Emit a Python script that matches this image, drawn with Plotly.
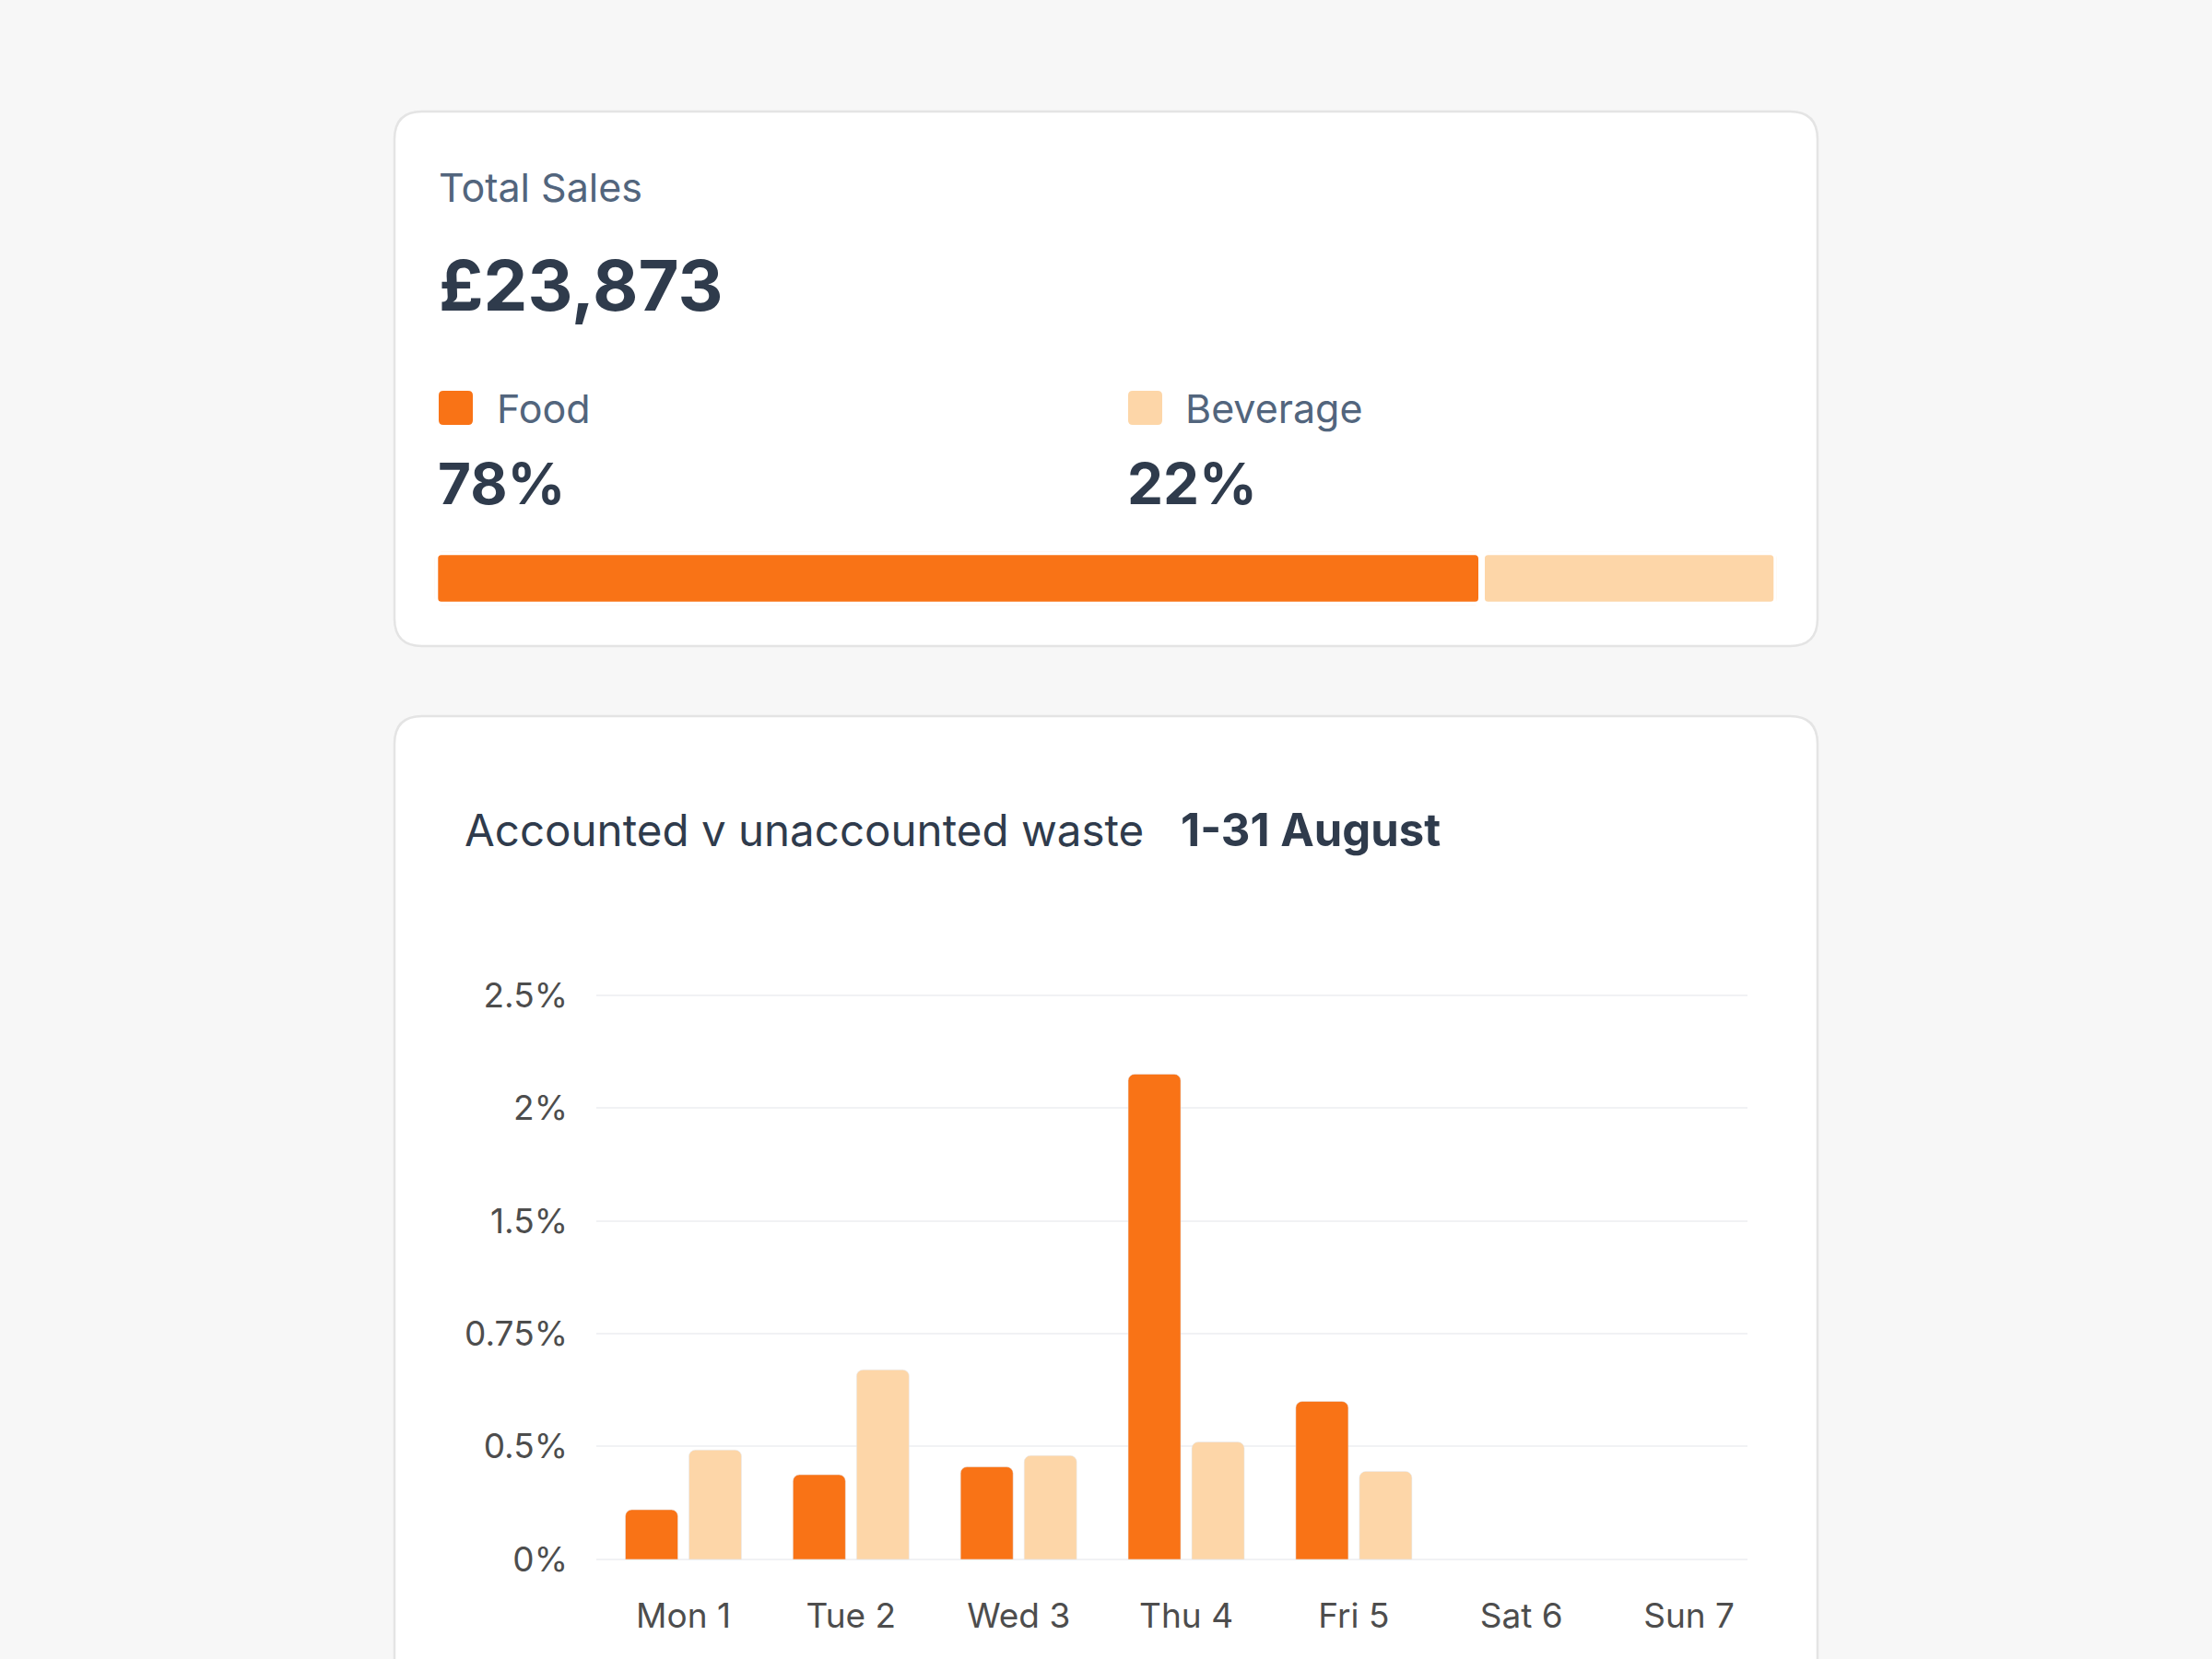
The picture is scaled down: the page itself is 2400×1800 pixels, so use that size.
import plotly.graph_objects as go

# ---------------- data ----------------
days = ["Mon 1", "Tue 2", "Wed 3", "Thu 4", "Fri 5", "Sat 6", "Sun 7"]
accounted = [0.22, 0.375, 0.41, 2.15, 0.70, None, None]      # Food (dark orange)
unaccounted = [0.485, 0.84, 0.46, 0.52, 0.39, None, None]    # Beverage (light orange)
ytick_vals = [0, 0.5, 1.0, 1.5, 2.0, 2.5]
ytick_text = ["0%", "0.5%", "0.75%", "1.5%", "2%", "2.5%"]

total_sales_label = "Total Sales"
total_sales_value = "£23,873"
share_names = ["Food", "Beverage"]
share_values = [78, 22]

chart_title = "Accounted v unaccounted waste"
chart_period = "1-31 August"

# ---------------- style ----------------
W, H = 2400, 1800
ORANGE = "#f97316"
PEACH = "#fdd6a8"
DARK = "#2f3b4c"
SLATE = "#52657d"
GREY = "#4d4d4d"
FONT = "Inter"


def px(x, y):
    return x / W, 1 - y / H


def rrect(x0, y0, x1, y1, r):
    pts = [
        ("M", (x0 + r, y0)), ("L", (x1 - r, y0)), ("Q", (x1, y0), (x1, y0 + r)),
        ("L", (x1, y1 - r)), ("Q", (x1, y1), (x1 - r, y1)),
        ("L", (x0 + r, y1)), ("Q", (x0, y1), (x0, y1 - r)),
        ("L", (x0, y0 + r)), ("Q", (x0, y0), (x0 + r, y0)),
    ]
    s = ""
    for p in pts:
        cmd = p[0]
        coords = " ".join("%.6f,%.6f" % px(*c) for c in p[1:])
        s += cmd + coords + " "
    return s + "Z"


fig = go.Figure()

# main chart bars
fig.add_trace(go.Bar(
    x=days, y=accounted, name="Accounted", marker=dict(color=ORANGE, cornerradius=7),
    xaxis="x", yaxis="y", hoverinfo="skip",
))
fig.add_trace(go.Bar(
    x=days, y=unaccounted, name="Unaccounted", marker=dict(color=PEACH, cornerradius=7),
    xaxis="x", yaxis="y", hoverinfo="skip",
))

# progress (share) bar
fig.add_trace(go.Bar(
    x=share_values, y=[0, 0], base=[0, share_values[0]], orientation="h",
    width=[1, 1],
    marker=dict(color=[ORANGE, PEACH], cornerradius=7, line=dict(color="white", width=7)),
    xaxis="x2", yaxis="y2", hoverinfo="skip",
))

# axis geometry (pixels)
cx0, step = 741.5, 181.85
plot_l, plot_r = 647, 1896
y0px, y25px = 1691.9, 1079.7
ppu = (y0px - y25px) / 2.5
ylo, yhi = -0.01, 2.51
dom_bot = 1 - (y0px + (0 - ylo) * ppu) / H
dom_top = 1 - (y25px - (yhi - 2.5) * ppu) / H

shapes = []
# cards
shapes.append(dict(type="path", path=rrect(428, 121, 1972, 701, 30), xref="paper", yref="paper",
                   fillcolor="white", line=dict(color="#e4e4e4", width=2.5), layer="below"))
shapes.append(dict(type="path", path=rrect(428, 777, 1972, 1900, 30), xref="paper", yref="paper",
                   fillcolor="white", line=dict(color="#e4e4e4", width=2.5), layer="below"))
# legend swatches
shapes.append(dict(type="path", path=rrect(476, 424, 513, 461, 5), xref="paper", yref="paper",
                   fillcolor=ORANGE, line=dict(width=0)))
shapes.append(dict(type="path", path=rrect(1224, 424, 1261, 461, 5), xref="paper", yref="paper",
                   fillcolor=PEACH, line=dict(width=0)))

annotations = []


def text(x, y, s, size, color, bold=False):
    ax, ay = px(x, y)
    annotations.append(dict(
        x=ax, y=ay, xref="paper", yref="paper", text=("<b>%s</b>" % s) if bold else s,
        showarrow=False, xanchor="left", yanchor="middle",
        font=dict(family=FONT, size=size, color=color),
    ))


text(474, 203, total_sales_label, 43, SLATE)
text(474, 309, total_sales_value, 76, DARK, bold=True)
text(537, 443, share_names[0], 43, SLATE)
text(1284, 443, share_names[1], 43, SLATE)
text(473, 524, "%d%%" % share_values[0], 62, DARK, bold=True)
text(1221, 524, "%d%%" % share_values[1], 62, DARK, bold=True)
text(502, 900, chart_title, 47.5, DARK)
text(1279, 900, chart_period, 49, DARK, bold=True)

fig.update_layout(
    width=W, height=H,
    margin=dict(l=0, r=0, t=0, b=0, pad=0, autoexpand=False),
    paper_bgcolor="#f7f7f7",
    plot_bgcolor="rgba(0,0,0,0)",
    showlegend=False,
    barmode="group",
    bargap=0.241,
    bargroupgap=0.174,
    shapes=shapes,
    annotations=annotations,
    font=dict(family=FONT, color=GREY),
    xaxis=dict(
        domain=[plot_l / W, plot_r / W],
        type="category",
        range=[(plot_l - cx0) / step, (plot_r - cx0) / step],
        showgrid=False, zeroline=False, showline=False,
        tickfont=dict(family=FONT, size=37, color=GREY),
        ticks="", ticklabelstandoff=34, automargin=False,
        fixedrange=True,
    ),
    yaxis=dict(
        domain=[dom_bot, dom_top],
        range=[ylo, yhi],
        tickvals=ytick_vals, ticktext=ytick_text,
        showgrid=True, gridcolor="#f1f2f4", gridwidth=2,
        zeroline=False, showline=False,
        tickfont=dict(family=FONT, size=37, color=GREY),
        ticks="", ticklabelstandoff=30, automargin=False,
        fixedrange=True,
    ),
    xaxis2=dict(
        domain=[471.8 / W, 1927.8 / W], range=[0, 100], anchor="y2",
        visible=False, fixedrange=True, automargin=False,
    ),
    yaxis2=dict(
        domain=[1 - 656.2 / H, 1 - 598.8 / H], range=[-0.5, 0.5], anchor="x2",
        visible=False, fixedrange=True, automargin=False,
    ),
)

fig.write_html("out.html")
